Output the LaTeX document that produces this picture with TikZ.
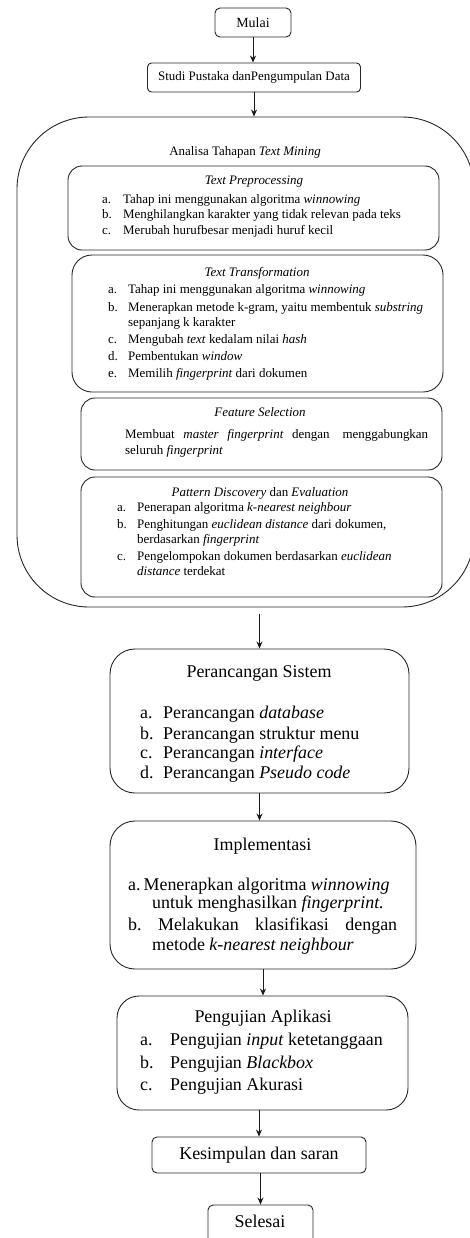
\documentclass[tikz,border=0pt]{standalone}
\usepackage{fontspec}
\setmainfont{Liberation Serif}
\usetikzlibrary{arrows.meta}
\tikzset{
  box/.style={draw=black!85, line width=0.9bp, inner sep=0pt},
  arr/.style={draw=black!90, line width=0.9bp, -{Stealth[length=7bp,width=6bp]}},
  sm/.style={inner sep=0pt, font=\fontsize{13}{15}\selectfont},
  lg/.style={inner sep=0pt, font=\fontsize{18}{21}\selectfont},
  smL/.style={sm, anchor=base west},
  lgL/.style={lg, anchor=base west},
  smT/.style={sm, anchor=base},
  lgT/.style={lg, anchor=base}
}
\begin{document}
\begin{tikzpicture}[x=1bp,y=-1bp]
\useasboundingbox (0,0) rectangle (470,1238);
\clip (0,0) rectangle (470,1238);
\fill[white] (0,0) rectangle (470,1238);

% start boxes
\node[box, rounded corners=5bp, minimum width=76bp, minimum height=29bp, font=\fontsize{14}{16}\selectfont] (mulai) at (253,22.5) {Mulai};
\node[box, rounded corners=4bp, minimum width=213bp, minimum height=29bp, font=\fontsize{13}{15}\selectfont] (studi) at (254,77.5) {Studi Pustaka danPengumpulan Data};

% big analysis box
\node[box, rounded corners=72bp, minimum width=457bp, minimum height=490bp] (analisa) at (245.5,362) {};
\node[smT] (analisaT) at (245,155) {Analisa Tahapan \textit{Text Mining}};

% Text Preprocessing
\node[box, rounded corners=14bp, minimum width=371bp, minimum height=84bp] (prep) at (253.5,208) {};
\node[smT] (prepT) at (254,184) {\textit{Text Preprocessing}};
\node[smL] (prepAl) at (102,203) {a.};
\node[smL] (prepAt) at (123,203) {Tahap ini menggunakan algoritma \textit{winnowing}};
\node[smL] (prepBl) at (102,218) {b.};
\node[smL] (prepBt) at (123,218) {Menghilangkan karakter yang tidak relevan pada teks};
\node[smL] (prepCl) at (102,234) {c.};
\node[smL] (prepCt) at (123,234) {Merubah hurufbesar menjadi huruf kecil};

% Text Transformation
\node[box, rounded corners=20bp, minimum width=371bp, minimum height=137bp] (trans) at (257.5,323.5) {};
\node[smT] (transT) at (257,276) {\textit{Text Transformation}};
\node[smL] (transAl) at (108,293) {a.};
\node[smL] (transAt) at (128,293) {Tahap ini menggunakan algoritma \textit{winnowing}};
\node[smL] (transBl) at (108,311) {b.};
\node[smL] (transBt) at (128,311) {Menerapkan metode k-gram, yaitu membentuk \textit{substring}};
\node[smL] (transBt2) at (128,326) {sepanjang k karakter};
\node[smL] (transCl) at (108,343) {c.};
\node[smL] (transCt) at (128,343) {Mengubah \textit{text} kedalam nilai \textit{hash}};
\node[smL] (transDl) at (108,360) {d.};
\node[smL] (transDt) at (128,360) {Pembentukan \textit{window}};
\node[smL] (transEl) at (108,377) {e.};
\node[smL] (transEt) at (128,377) {Memilih \textit{fingerprint} dari dokumen};

% Feature Selection
\node[box, rounded corners=14bp, minimum width=361bp, minimum height=72bp] (feat) at (261.5,434) {};
\node[smT] (featT) at (260,416) {\textit{Feature Selection}};
\node[smL] (featA) at (125,438) {\makebox[303bp][s]{Membuat \textit{master fingerprint} dengan\quad menggabungkan}};
\node[smL] (featB) at (125,454) {seluruh \textit{fingerprint}};

% Pattern Discovery
\node[box, rounded corners=14bp, minimum width=361bp, minimum height=120bp] (patt) at (261.5,537) {};
\node[smT] (pattT) at (260,496) {\textit{Pattern Discovery} dan \textit{Evaluation}};
\node[smL] (pattAl) at (117,511) {a.};
\node[smL] (pattAt) at (137,511) {Penerapan algoritma \textit{k-nearest neighbour}};
\node[smL] (pattBl) at (117,528) {b.};
\node[smL] (pattBt) at (137,528) {Penghitungan \textit{euclidean distance} dari dokumen,};
\node[smL] (pattBt2) at (137,543) {berdasarkan \textit{fingerprint}};
\node[smL] (pattCl) at (117,560) {c.};
\node[smL] (pattCt) at (137,560) {Pengelompokan dokumen berdasarkan \textit{euclidean}};
\node[smL] (pattCt2) at (137,575) {\textit{distance} terdekat};

% Perancangan Sistem
\node[box, rounded corners=25bp, minimum width=299bp, minimum height=144bp] (peranc) at (259.5,721) {};
\node[lgT] (perancT) at (259,677) {Perancangan Sistem};
\node[lgL] (perancAl) at (140,718) {a.};
\node[lgL] (perancAt) at (163,718) {Perancangan \textit{database}};
\node[lgL] (perancBl) at (140,739) {b.};
\node[lgL] (perancBt) at (163,739) {Perancangan struktur menu};
\node[lgL] (perancCl) at (140,758) {c.};
\node[lgL] (perancCt) at (163,758) {Perancangan \textit{interface}};
\node[lgL] (perancDl) at (140,778) {d.};
\node[lgL] (perancDt) at (163,778) {Perancangan \textit{Pseudo code}};

% Implementasi
\node[box, rounded corners=25bp, minimum width=306bp, minimum height=148bp] (impl) at (263,895) {};
\node[lgT] (implT) at (262.5,850) {Implementasi};
\node[lgL] (implA) at (128,890) {a.\,Menerapkan algoritma \textit{winnowing}};
\node[lgL] (implA2) at (152,908) {untuk menghasilkan \textit{fingerprint.}};
\node[lgL] (implB) at (128,930) {\makebox[269bp][s]{b.\ Melakukan klasifikasi dengan}};
\node[lgL] (implB2) at (152,950) {metode \textit{k-nearest neighbour}};

% Pengujian Aplikasi
\node[box, rounded corners=22bp, minimum width=291bp, minimum height=114bp] (peng) at (262.5,1053) {};
\node[lgT] (pengT) at (263,1022) {Pengujian Aplikasi};
\node[lgL] (pengAl) at (140,1045) {a.};
\node[lgL] (pengAt) at (170,1045) {Pengujian \textit{input} ketetanggaan};
\node[lgL] (pengBl) at (140,1068) {b.};
\node[lgL] (pengBt) at (170,1068) {Pengujian \textit{Blackbox}};
\node[lgL] (pengCl) at (140,1090) {c.};
\node[lgL] (pengCt) at (170,1090) {Pengujian Akurasi};

% end boxes
\node[box, rounded corners=5bp, minimum width=214bp, minimum height=36bp, lg] (kes) at (259,1155) {Kesimpulan dan saran};
\node[box, rounded corners=5bp, minimum width=105bp, minimum height=66bp] (sel) at (260.5,1238) {};
\node[lgT] (selT) at (260,1227) {Selesai};

% connectors
\draw[arr] (mulai.south) -- (mulai.south |- studi.north);
\draw[arr] (studi.south) -- (studi.south |- analisa.north);
\draw[arr, shorten <=7bp] (analisa.south -| peranc.north) -- (peranc.north);
\draw[arr] (peranc.south) -- (peranc.south |- impl.north);
\draw[arr] (impl.south) -- (impl.south |- peng.north);
\draw[arr] (kes.north |- peng.south) -- (kes.north);
\draw[arr] (sel.north |- kes.south) -- (sel.north);
\end{tikzpicture}
\end{document}
